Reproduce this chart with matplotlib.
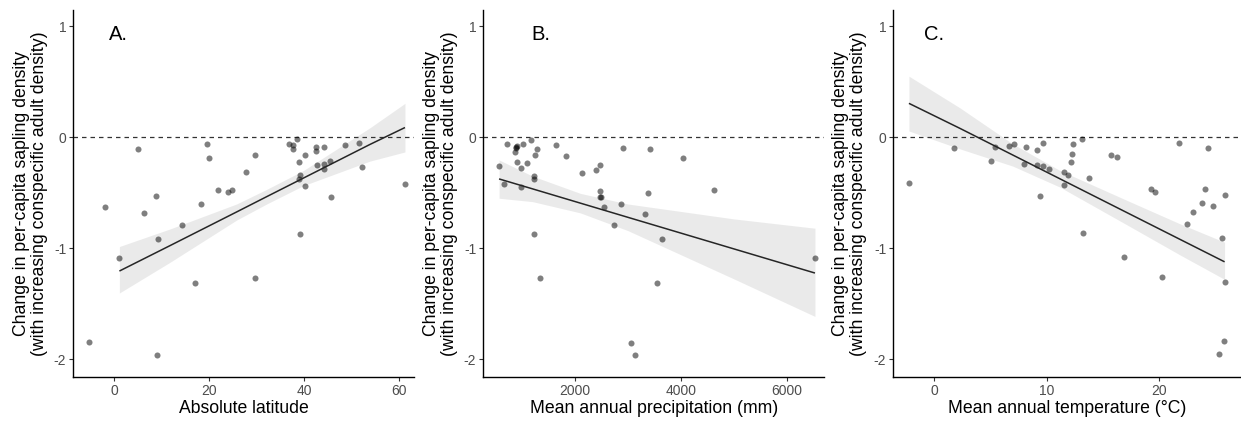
import numpy as np
import matplotlib
matplotlib.use("Agg")
import matplotlib.pyplot as plt

plt.rcParams['font.family'] = ['Liberation Sans', 'DejaVu Sans']
plt.rcParams['axes.unicode_minus'] = False

# ---------------- Panel A: absolute latitude ----------------
lat_x = [-5.3, -2.0, 1.1, 5.1, 6.3, 8.9, 9.3, 9.1, 14.3, 17.0, 18.2, 19.6, 19.9, 21.9,
         23.9, 24.7, 27.7, 29.7, 29.6, 36.8, 37.6, 37.6, 38.4, 38.9, 39.2, 38.9, 39.2,
         40.1, 40.2, 42.5, 42.5, 42.7, 44.2, 44.2, 44.2, 45.5, 45.6, 48.6, 51.6, 52.2, 61.2]
lat_y = [-1.847, -0.627, -1.091, -0.102, -0.681, -0.528, -0.915, -1.961, -0.786, -1.310,
         -0.597, -0.057, -0.183, -0.474, -0.495, -0.474, -0.315, -0.162, -1.268, -0.063,
         -0.069, -0.103, -0.015, -0.222, -0.339, -0.372, -0.867, -0.156, -0.438, -0.090,
         -0.120, -0.249, -0.090, -0.243, -0.288, -0.216, -0.534, -0.072, -0.051, -0.267, -0.420]
lat_fit_x = [1.1, 11.8, 25.8, 32.0, 39.8, 53.8, 61.2]
lat_fit_y = [-1.205, -0.975, -0.672, -0.537, -0.368, -0.065, 0.088]
lat_fit_lo = [-1.403, -1.125, -0.745, -0.603, -0.436, -0.215, -0.132]
lat_fit_hi = [-0.984, -0.825, -0.600, -0.471, -0.300, 0.085, 0.306]

# ---------------- Panel B: precipitation ----------------
prec_x = [564, 665, 721, 898, 885, 872, 890, 898, 986, 974, 1012, 1093, 1168, 1238, 1282,
          1231, 1231, 1225, 1339, 1635, 1836, 2132, 2403, 2466, 2472, 2472, 2498, 2554,
          2743, 2863, 2913, 3065, 3140, 3317, 3380, 3417, 3556, 3638, 4035, 4621, 6535]
prec_y = [-0.255, -0.423, -0.057, -0.076, -0.099, -0.129, -0.085, -0.222, -0.276, -0.447,
          -0.060, -0.228, -0.021, -0.162, -0.102, -0.345, -0.378, -0.873, -1.271, -0.072,
          -0.168, -0.321, -0.297, -0.246, -0.480, -0.537, -0.537, -0.630, -0.789, -0.603,
          -0.096, -1.850, -1.961, -0.687, -0.501, -0.108, -1.313, -0.918, -0.186, -0.477, -1.091]
prec_fit_x = [564, 1200, 2100, 3000, 4000, 5000, 6536]
prec_fit_y = [-0.375, -0.465, -0.593, -0.721, -0.863, -1.005, -1.223]
prec_fit_lo = [-0.549, -0.580, -0.681, -0.841, -1.058, -1.275, -1.614]
prec_fit_hi = [-0.204, -0.350, -0.505, -0.601, -0.668, -0.735, -0.819]

# ---------------- Panel C: temperature ----------------
temp_x = [-2.25, 1.75, 5.07, 5.45, 6.64, 7.08, 8.0, 8.15, 9.16, 9.16, 9.45, 9.66, 9.66,
          10.22, 11.53, 11.56, 11.94, 12.18, 12.24, 12.36, 13.19, 13.24, 13.75, 15.76,
          16.30, 16.92, 19.26, 19.67, 20.24, 21.81, 22.46, 23.05, 23.85, 24.09, 24.36,
          24.83, 25.63, 25.87, 25.81, 25.33, 25.87]
temp_y = [-0.414, -0.096, -0.213, -0.087, -0.075, -0.063, -0.237, -0.090, -0.117, -0.246,
          -0.528, -0.048, -0.258, -0.288, -0.312, -0.432, -0.339, -0.219, -0.153, -0.063,
          -0.015, -0.864, -0.369, -0.156, -0.174, -1.082, -0.465, -0.492, -1.262, -0.051,
          -0.780, -0.675, -0.591, -0.468, -0.096, -0.621, -0.909, -0.522, -1.838, -1.952, -1.301]
temp_fit_x = [-2.25, 2.28, 7.0, 11.17, 17.1, 21.84, 25.84]
temp_fit_y = [0.306, 0.081, -0.160, -0.373, -0.676, -0.918, -1.122]
temp_fit_lo = [0.057, -0.104, -0.260, -0.448, -0.786, -1.058, -1.280]
temp_fit_hi = [0.551, 0.266, -0.060, -0.298, -0.566, -0.778, -0.945]

x_titles = ["Absolute latitude", "Mean annual precipitation (mm)", "Mean annual temperature (°C)"]
panel_tags = ["A.", "B.", "C."]
y_title = "Change in per-capita sapling density\n(with increasing conspecific adult density)"

W, H = 1241, 423
fig = plt.figure(figsize=(W / 100, H / 100), dpi=100)

# axes rectangles in pixels: left, right
rects = [(73.3, 414.0), (483.3, 824.0), (893.3, 1241.0)]
top_px, bot_px = 10.0, 376.7
xlims = [(-8.6, 63.1), (266, 6707), (-3.64, 27.3)]
xticks = [[0, 20, 40, 60], [2000, 4000, 6000], [0, 10, 20]]
tag_x = [0.105, 0.142, 0.089]

data = [
    (lat_x, lat_y, lat_fit_x, lat_fit_y, lat_fit_lo, lat_fit_hi),
    (prec_x, prec_y, prec_fit_x, prec_fit_y, prec_fit_lo, prec_fit_hi),
    (temp_x, temp_y, temp_fit_x, temp_fit_y, temp_fit_lo, temp_fit_hi),
]

for i, (l, r) in enumerate(rects):
    ax = fig.add_axes([l / W, 1 - bot_px / H, (r - l) / W, (bot_px - top_px) / H])
    px, py, fx, fy, flo, fhi = data[i]
    ax.fill_between(fx, flo, fhi, color='#999999', alpha=0.2, lw=0, zorder=1)
    ax.axhline(0, color='#333333', lw=0.9, ls=(0, (3.6, 3.2)), zorder=2)
    ax.scatter(px, py, s=19, color='black', alpha=0.5, lw=0, zorder=3)
    ax.plot(fx, fy, color='#262626', lw=1.1, zorder=4, solid_capstyle='butt')
    ax.set_xlim(*xlims[i])
    ax.set_ylim(-2.157, 1.147)
    ax.set_xticks(xticks[i])
    ax.set_yticks([-2, -1, 0, 1])
    ax.set_yticklabels(['-2', '-1', '0', '1'])
    for s in ['top', 'right']:
        ax.spines[s].set_visible(False)
    for s in ['left', 'bottom']:
        ax.spines[s].set_linewidth(1.0)
        ax.spines[s].set_color('black')
    ax.tick_params(axis='both', length=3.0, width=0.8, color='#333333',
                   labelcolor='#4D4D4D', labelsize=10, pad=2.0)
    ax.set_xlabel(x_titles[i], fontsize=12.7, color='black', labelpad=1.5)
    ax.set_ylabel(y_title, fontsize=12.7, color='black', linespacing=1.08)
    ax.yaxis.set_label_coords(-0.075, 0.5)
    ax.text(tag_x[i], 0.932, panel_tags[i], transform=ax.transAxes, fontsize=14.5,
            ha='left', va='center', color='black')

fig.savefig("out.png", dpi=100)
